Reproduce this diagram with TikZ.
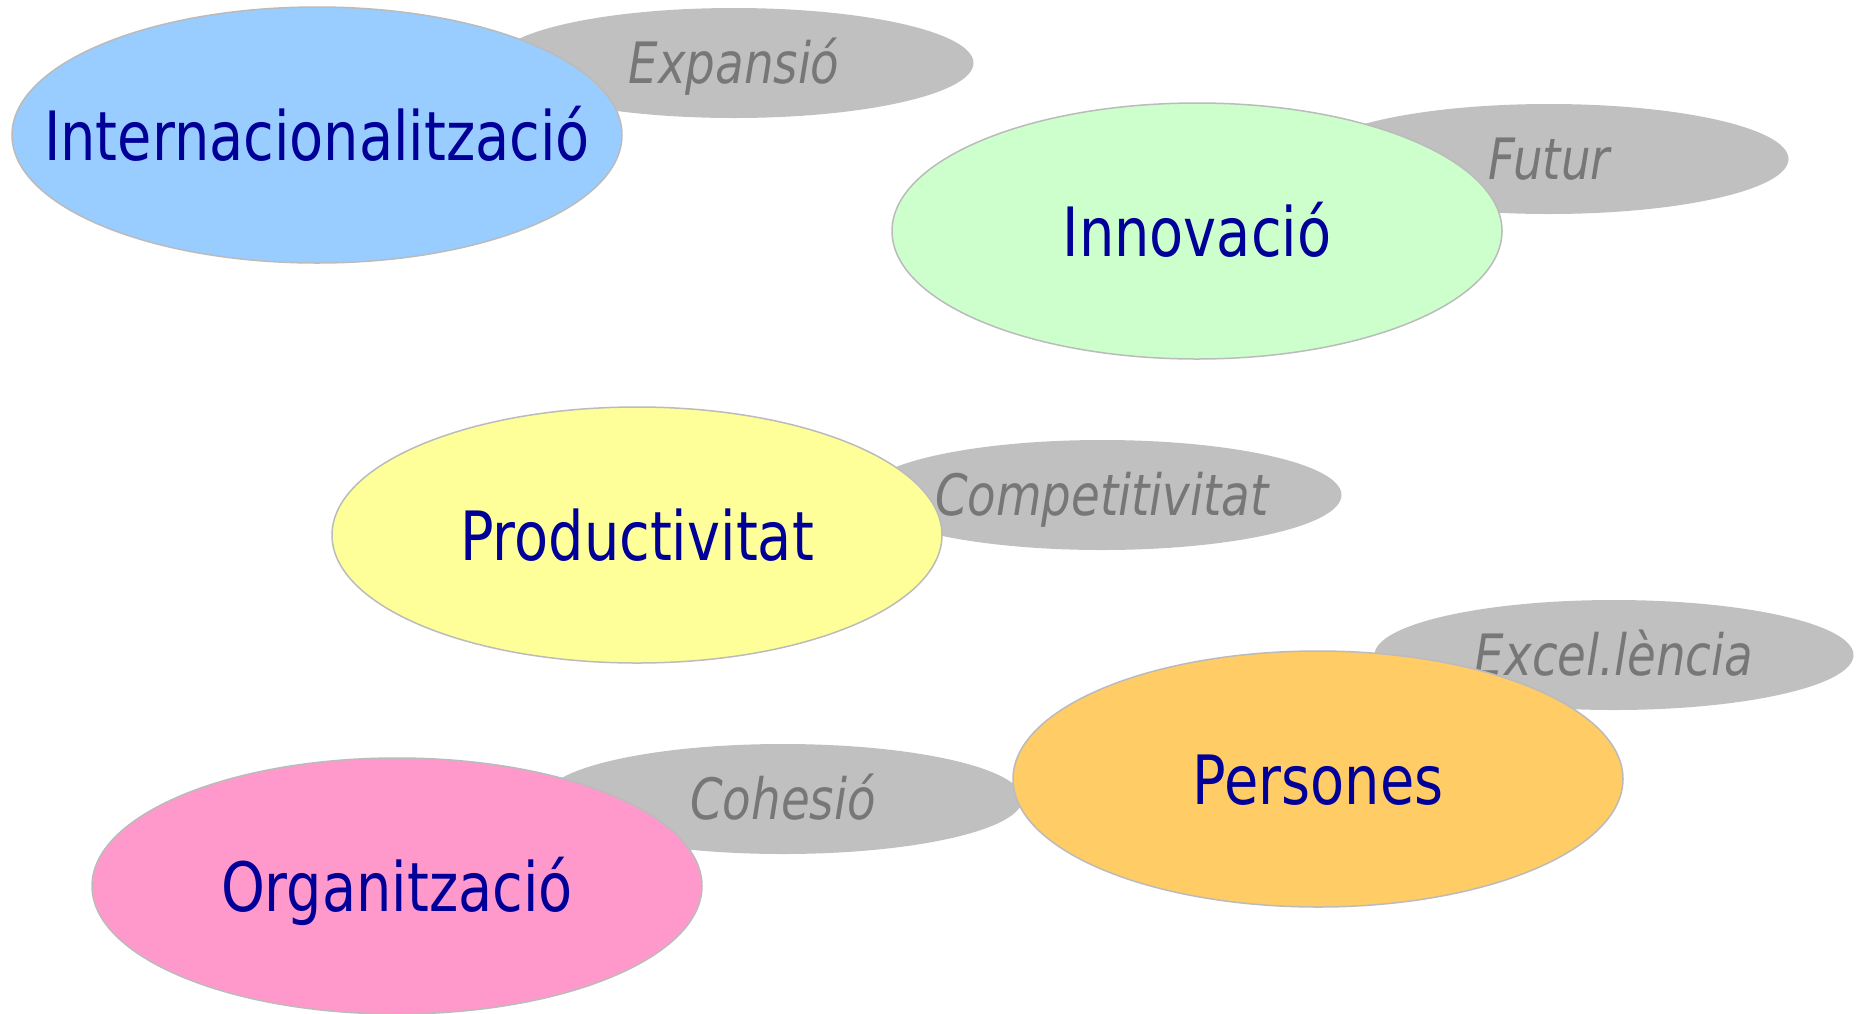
\documentclass[tikz,border=0pt]{standalone}
\usepackage{fontspec}
\setmainfont{DejaVu Sans}[FakeStretch=0.82]
\usepackage{tikz}
\usetikzlibrary{shapes.geometric}

\definecolor{themeblue}{HTML}{000099}
\definecolor{wordgrey}{HTML}{777777}
\definecolor{asidegrey}{HTML}{C0C0C0}
\definecolor{edgegrey}{HTML}{BBBBBB}
\definecolor{skyfill}{HTML}{99CCFF}
\definecolor{mintfill}{HTML}{CCFFCC}
\definecolor{lemonfill}{HTML}{FFFF99}
\definecolor{amberfill}{HTML}{FFCC66}
\definecolor{rosefill}{HTML}{FF99CC}

\begin{document}
\begin{tikzpicture}[x=1pt, y=-1pt,
    theme/.style={ellipse, draw=edgegrey, line width=1.5pt, minimum width=610pt, minimum height=256pt, inner sep=0pt},
    aside/.style={ellipse, fill=asidegrey, minimum width=479pt, minimum height=110pt, inner sep=0pt},
    themetext/.style={text=themeblue, font=\fontsize{68}{80}\selectfont, text height=50pt, text depth=0pt},
    asidetext/.style={text=wordgrey, font=\fontsize{57}{66}\selectfont\itshape, text height=41pt, text depth=0pt}]
  \useasboundingbox (0,0) rectangle (1856,1013);
  % grey keywords behind
  \node[aside, label={[asidetext]center:Expansió}] (expansio) at (734,63) {};
  \node[aside, label={[asidetext]center:Futur}] (futur) at (1549,159) {};
  \node[aside, label={[asidetext]center:Competitivitat}] (competit) at (1102,495) {};
  \node[aside, label={[asidetext]center:Excel.lència}] (excel) at (1614,655) {};
  \node[aside, label={[asidetext]center:Cohesió}] (cohesio) at (783,799) {};
  % main themes
  \node[theme, fill=skyfill, label={[themetext]center:Internacionalització}] (intern) at (317,135) {};
  \node[theme, fill=mintfill, label={[themetext]center:Innovació}] (innov) at (1197,231) {};
  \node[theme, fill=lemonfill, label={[themetext]center:Productivitat}] (product) at (637,535) {};
  \node[theme, fill=amberfill, label={[themetext]center:Persones}] (persones) at (1318,779) {};
  \node[theme, fill=rosefill, label={[themetext]center:Organització}] (organ) at (397,886) {};
\end{tikzpicture}
\end{document}
